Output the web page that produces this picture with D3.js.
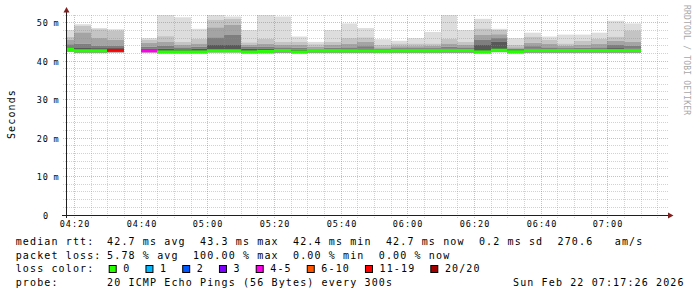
<!DOCTYPE html>
<html lang="en">
<head>
<meta charset="utf-8">
<title>smokeping latency</title>
<style>
	body { margin: 0; background: #fff; }
	svg { display: block; }
	text { font-family: "DejaVu Sans Mono", monospace; fill: #000; }
	.legend text { font-size: 10px; letter-spacing: 1.13px; }
	.tick-label { font-size: 8.5px; letter-spacing: 1px; }
	.grid-minor { stroke: #8f8f8f; stroke-opacity: 0.4; stroke-dasharray: 1,1; }
	.grid-major { stroke: #de4f4f; stroke-opacity: 0.45; stroke-dasharray: 1,1; }
</style>
</head>
<body>
<svg></svg>
<script src="https://d3js.org/d3.v7.min.js"></script>
<script>
(function() {

	// 5 minute slots (start time of each step)
	var slots = ["04:15","04:20","04:25","04:30","04:35","04:40","04:45","04:50","04:55",
		"05:00","05:05","05:10","05:15","05:20","05:25","05:30","05:35","05:40","05:45",
		"05:50","05:55","06:00","06:05","06:10","06:15","06:20","06:25","06:30","06:35",
		"06:40","06:45","06:50","06:55","07:00","07:05"];

	// rtt in ms (null = no answer at all)
	var rttMax = [48.1,49.6,48.6,48.3,null,46.0,54.0,51.4,48.4,54.0,51.6,48.1,54.0,51.6,46.4,45.0,48.1,49.8,
		48.6,45.7,45.3,46.0,47.6,54.0,48.1,51.0,48.4,46.0,47.4,46.4,46.9,46.9,47.4,50.5,49.8];
	var smoke1 = [46.3,49.2,48.3,48.0,null,45.6,46.5,45.0,45.8,50.8,51.0,44.9,45.8,45.0,45.0,44.4,45.0,46.0,
		46.2,44.2,44.6,44.6,44.6,45.8,45.0,48.5,48.1,44.2,46.4,45.6,44.6,45.3,45.8,46.4,48.0];
	var smoke2 = [45.5,47.5,46.0,45.5,null,44.8,45.0,44.2,44.6,48.8,49.4,44.3,44.5,44.2,44.2,43.8,44.2,44.5,
		45.0,43.6,43.9,43.9,44.0,44.6,44.2,46.8,47.0,43.6,44.8,44.5,44.0,44.2,44.5,45.3,45.0];
	var smoke3 = [44.4,44.5,44.0,44.0,null,43.8,44.0,43.6,43.8,46.2,46.8,43.7,43.7,43.6,43.5,43.3,43.5,43.6,
		43.9,43.2,43.4,43.4,43.4,43.8,43.6,45.5,46.0,43.2,43.9,43.6,43.4,43.5,43.6,44.2,44.0];
	var smoke4 = [43.6,43.6,43.4,43.4,null,43.3,43.2,43.1,43.2,44.2,44.2,43.2,43.2,43.1,43.0,43.0,43.0,43.1,
		43.2,42.9,43.0,43.0,43.0,43.2,43.1,44.2,45.0,42.9,43.2,43.1,43.0,43.0,43.1,43.4,43.3];
	var rttMedian = [43.05,42.7,42.7,42.8,null,42.7,42.4,42.4,42.4,42.7,42.7,42.4,42.55,42.75,42.4,42.7,42.7,42.7,
		42.7,42.65,42.7,42.7,42.7,42.75,42.75,42.4,42.85,42.45,42.75,42.75,42.75,42.75,42.75,42.75,42.75];
	var rttMin = [42.4,42.1,42.1,42.2,null,42.2,42.0,42.0,42.0,42.2,42.2,42.0,42.0,42.1,42.0,42.1,42.1,42.1,
		42.1,42.1,42.1,42.1,42.1,42.1,42.1,42.0,42.3,42.0,42.1,42.1,42.1,42.1,42.1,42.1,42.1];
	// index into lossLabels / lossColors
	var lossLevel = [0,0,0,6,7,4,0,0,0,0,0,0,0,0,0,0,0,0,0,0,0,0,0,0,0,0,0,0,0,0,0,0,0,0,0];

	var lossLabels = ["0","1","2","3","4-5","6-10","11-19","20/20"];
	var lossColors = ["#26ff00","#00b8ff","#0059ff","#7e00ff","#ff00ea","#ff5500","#ff0000","#a10000"];

	var yTicks = [0,10,20,30,40,50];
	var rttLegend = ["median rtt:","42.7 ms avg","43.3 ms max","42.4 ms min","42.7 ms now","0.2 ms sd","270.6   am/s"];
	var lossLegend = ["packet loss:","5.78 % avg","100.00 % max","0.00 % min","0.00 % now"];
	var probeLegend = ["probe:","20 ICMP Echo Pings (56 Bytes) every 300s"];
	var stamp = "Sun Feb 22 07:17:26 2026";
	var watermark = "RRDTOOL / TOBI OETIKER";

	var width = 697, height = 297;
	var svg = d3.select("svg").attr("width", width).attr("height", height);

	function hm(s) {
		var p = s.split(":");
		return new Date(Date.UTC(2026, 1, 22, +p[0], +p[1]));
	}
	var tEnd = new Date(Date.UTC(2026, 1, 22, 7, 17, 26));
	var tStart = d3.utcHour.offset(tEnd, -3);

	var x = d3.scaleUtc().domain([tStart, tEnd]).range([66, 666]);
	var y = d3.scaleLinear().domain([0, 52]).range([215, 15]);

	svg.append("clipPath").attr("id", "plot")
		.append("rect").attr("x", 66).attr("y", 15).attr("width", 600).attr("height", 200);

	var rows = slots.map(function(s, i) {
		return {
			t0: hm(s), t1: d3.utcMinute.offset(hm(s), 5),
			max: rttMax[i], s1: smoke1[i], s2: smoke2[i], s3: smoke3[i], s4: smoke4[i],
			med: rttMedian[i], min: rttMin[i], loss: lossLevel[i]
		};
	}).filter(function(d) { return d.med != null; });

	var bandColors = ["#dddddd","#c4c4c4","#a4a4a4","#7e7e7e","#585858","#9a9a9a"];

	// smoke
	var smoke = svg.append("g").attr("clip-path", "url(#plot)");
	smoke.selectAll("g")
		.data(rows)
		.join("g")
		.each(function(d) {
			var x0 = Math.floor(x(d.t0)), x1 = Math.floor(x(d.t1));
			var edges = [d.max, d.s1, d.s2, d.s3, d.s4, d.med, d.min];
			d3.select(this).selectAll("rect")
				.data(d3.range(6))
				.join("rect")
				.attr("x", x0)
				.attr("width", x1 - x0)
				.attr("y", function(k) { return y(edges[k]); })
				.attr("height", function(k) { return y(edges[k + 1]) - y(edges[k]); })
				.attr("fill", function(k) { return bandColors[k]; });
		});

	// grid
	var grid = svg.append("g");
	d3.range(2, 53, 2).forEach(function(v) {
		var yy = Math.floor(y(v)) + 0.5;
		grid.append("line")
			.attr("class", v % 10 === 0 ? "grid-major" : "grid-minor")
			.attr("x1", 63).attr("x2", 668).attr("y1", yy).attr("y2", yy);
	});
	x.ticks(d3.utcMinute.every(5)).forEach(function(t) {
		var xx = Math.floor(x(t)) + 0.5;
		grid.append("line")
			.attr("class", t.getUTCMinutes() % 20 === 0 ? "grid-major" : "grid-minor")
			.attr("x1", xx).attr("x2", xx).attr("y1", 15).attr("y2", 218);
	});

	// median line coloured by loss
	svg.append("g").attr("clip-path", "url(#plot)")
		.selectAll("rect")
		.data(rows)
		.join("rect")
		.attr("x", function(d) { return Math.floor(x(d.t0)); })
		.attr("width", function(d) { return Math.floor(x(d.t1)) - Math.floor(x(d.t0)); })
		.attr("y", function(d) { return y(d.med) - 1.5; })
		.attr("height", 3)
		.attr("fill", function(d) { return lossColors[d.loss]; });

	// axes
	svg.append("line").attr("x1", 62).attr("x2", 670).attr("y1", 215.5).attr("y2", 215.5)
		.attr("stroke", "#1f1f1f");
	svg.append("line").attr("x1", 66.5).attr("x2", 66.5).attr("y1", 218).attr("y2", 11)
		.attr("stroke", "#1f1f1f");
	svg.append("path").attr("d", "M668,212.5L673.5,215.5L668,218.5Z").attr("fill", "#801f1f");
	svg.append("path").attr("d", "M63.5,12.5L66.5,7L69.5,12.5Z").attr("fill", "#801f1f");

	svg.append("g").selectAll("text")
		.data(x.ticks(d3.utcMinute.every(20)))
		.join("text")
		.attr("class", "tick-label")
		.attr("x", function(d) { return Math.floor(x(d)) + 1; })
		.attr("y", 227)
		.attr("text-anchor", "middle")
		.text(d3.utcFormat("%H:%M"));

	var yl = svg.append("g").selectAll("g").data(yTicks).join("g");
	yl.append("text")
		.attr("class", "tick-label")
		.attr("x", 49).attr("y", function(d) { return Math.floor(y(d)) + 3.5; })
		.attr("text-anchor", "end")
		.text(function(d) { return d; });
	yl.filter(function(d) { return d > 0; }).append("text")
		.attr("class", "tick-label")
		.attr("x", 53.5).attr("y", function(d) { return Math.floor(y(d)) + 3.5; })
		.text("m");

	svg.append("text")
		.attr("transform", "translate(15,114) rotate(-90)")
		.attr("text-anchor", "middle")
		.style("font-size", "10px").style("letter-spacing", "1.13px")
		.text("Seconds");

	svg.append("text")
		.attr("transform", "translate(684,5) rotate(90)")
		.style("font-size", "8px").style("letter-spacing", "0.2px")
		.style("fill", "#a8a8a8")
		.text(watermark);

	// legend
	var cw = 7.15, gap = 14.3, col0 = 15.7, col1 = 107.1;
	var legend = svg.append("g").attr("class", "legend");

	function row(items, yy) {
		var xx = col1;
		items.forEach(function(s, i) {
			legend.append("text").attr("x", i === 0 ? col0 : xx).attr("y", yy)
				.attr("xml:space", "preserve").text(s);
			if (i > 0) xx += s.length * cw + gap;
		});
	}
	row(rttLegend, 245);
	row(lossLegend, 258.7);

	legend.append("text").attr("x", col0).attr("y", 272.4).text("loss color:");
	var bx = 108.7;
	lossLabels.forEach(function(lbl, i) {
		legend.append("rect").attr("x", bx + 0.5).attr("y", 265.5).attr("width", 7).attr("height", 7)
			.attr("fill", lossColors[i]).attr("stroke", "#000");
		legend.append("text").attr("x", bx + 14.6).attr("y", 272.4).text(lbl);
		bx += 14.6 + lbl.length * cw + 15;
	});

	row(probeLegend, 286);
	legend.append("text").attr("x", 513).attr("y", 286).text(stamp);

})();
</script>
</body>
</html>
